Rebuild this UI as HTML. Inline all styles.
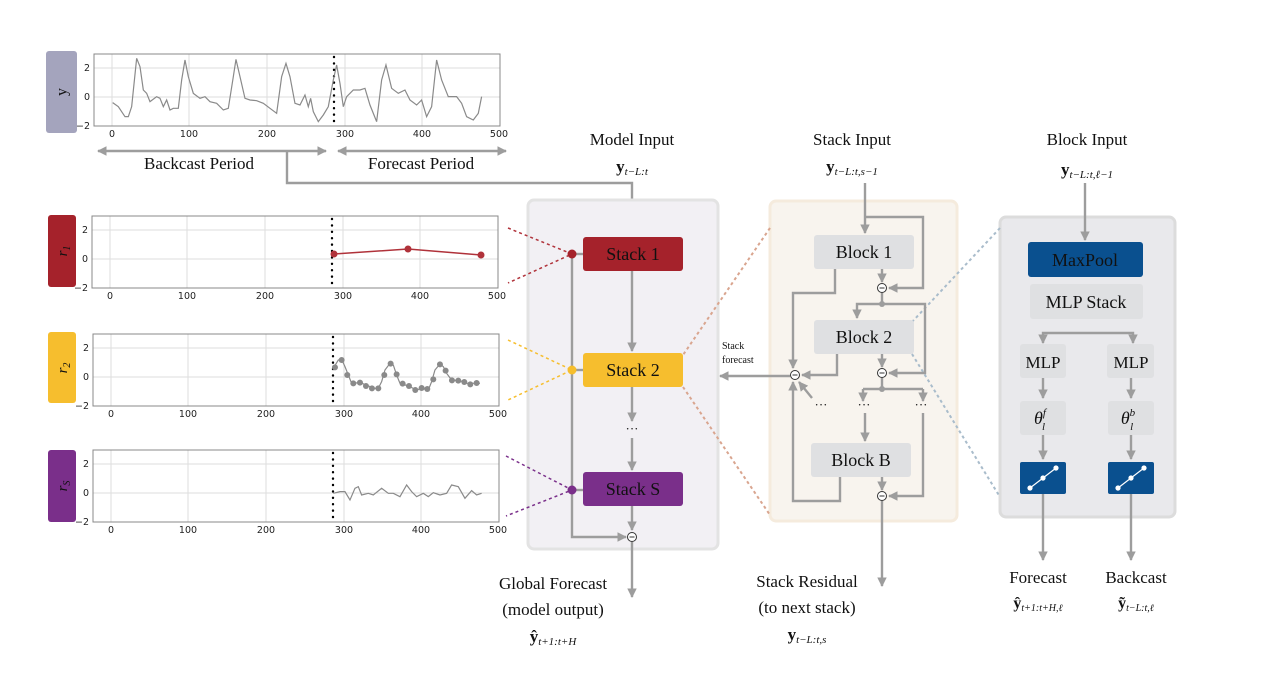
<!DOCTYPE html>
<html><head><meta charset="utf-8"><style>
html,body{margin:0;padding:0;background:#fff;width:1280px;height:674px;overflow:hidden}
svg{display:block}
.ser{font-family:"Liberation Serif",serif;fill:#111}
.tk{font-family:"DejaVu Sans",sans-serif;font-size:9.5px;fill:#222}
.ln{stroke:#9d9d9d;stroke-width:2.4;fill:none}
.g{stroke:#dddddd;stroke-width:1}
</style></head><body>
<svg width="1280" height="674" viewBox="0 0 1280 674" xmlns="http://www.w3.org/2000/svg">
<defs>
<marker id="a" viewBox="0 0 10 10" refX="9" refY="5" markerWidth="4" markerHeight="4" orient="auto-start-reverse" markerUnits="strokeWidth"><path d="M0,0 L10,5 L0,10 z" fill="#9d9d9d"/></marker>
<g id="frame">
<line class="g" x1="18" y1="0" x2="18" y2="72"/><line class="g" x1="95" y1="0" x2="95" y2="72"/><line class="g" x1="173" y1="0" x2="173" y2="72"/><line class="g" x1="251" y1="0" x2="251" y2="72"/><line class="g" x1="328" y1="0" x2="328" y2="72"/>
<line class="g" x1="0" y1="14" x2="406" y2="14"/><line class="g" x1="0" y1="43" x2="406" y2="43"/>
<rect x="0" y="0" width="406" height="72" fill="none" stroke="#888" stroke-width="1"/>
<line x1="240" y1="3" x2="240" y2="72" stroke="#000" stroke-width="2.4" stroke-dasharray="0.1,6.3" stroke-linecap="round"/>
<text class="tk" x="18" y="83" text-anchor="middle">0</text><text class="tk" x="95" y="83" text-anchor="middle">100</text><text class="tk" x="173" y="83" text-anchor="middle">200</text><text class="tk" x="251" y="83" text-anchor="middle">300</text><text class="tk" x="328" y="83" text-anchor="middle">400</text><text class="tk" x="405" y="83" text-anchor="middle">500</text>
<text class="tk" x="-4" y="17" text-anchor="end">2</text><text class="tk" x="-4" y="46" text-anchor="end">0</text><text class="tk" x="-4" y="75" text-anchor="end">−2</text>
</g>
</defs>

<!-- plot y -->
<rect x="46" y="51" width="31" height="82" rx="3" fill="#a4a4bd"/>
<text class="ser" x="61.5" y="92" font-size="16" fill="#333" transform="rotate(-90 61.5 92)" text-anchor="middle" dy="5">y</text>
<use href="#frame" x="94" y="54"/>
<g transform="translate(40,40) scale(0.3333)"><polyline vector-effect="non-scaling-stroke" fill="none" stroke="#8a8a8a" stroke-width="1.2" points="218,188 235,200 255,230 265,230 275,200 290,55 300,80 310,150 320,160 330,185 350,170 360,175 370,200 380,180 390,210 400,205 415,205 425,120 435,60 445,110 460,160 480,175 495,170 510,185 530,190 550,210 565,205 580,110 588,58 600,110 615,175 630,180 650,182 670,190 690,205 710,220 725,110 738,70 750,110 765,190 780,195 795,165 805,200 812,175 820,215 835,245 850,225 865,200 880,120 890,75 900,130 910,200 920,170 940,150 960,150 975,145 990,195 1010,245 1025,120 1038,75 1055,145 1075,160 1095,150 1110,180 1130,195 1145,180 1160,230 1175,200 1190,60 1205,120 1225,170 1250,170 1265,190 1280,230 1300,240 1315,220 1325,170"/></g>
<line class="ln" x1="98" y1="151" x2="326" y2="151" marker-start="url(#a)" marker-end="url(#a)"/>
<line class="ln" x1="338" y1="151" x2="506" y2="151" marker-start="url(#a)" marker-end="url(#a)"/>
<text class="ser" x="199" y="169" font-size="17" text-anchor="middle">Backcast Period</text>
<text class="ser" x="421" y="169" font-size="17" text-anchor="middle">Forecast Period</text>
<polyline class="ln" points="287,151 287,183 632,183 632,232" marker-end="url(#a)"/>

<!-- r1 -->
<rect x="48" y="215" width="28" height="72" rx="3" fill="#a5222b"/>
<text class="ser" x="62" y="251" font-size="15" fill="#fff" font-style="italic" transform="rotate(-90 62 251)" text-anchor="middle" dy="5">r<tspan font-size="10" dy="3">1</tspan></text>
<use href="#frame" x="92" y="216"/>
<polyline fill="none" stroke="#b0323a" stroke-width="1.5" points="334,254 408,249 481,255"/>
<circle cx="334" cy="254" r="3.5" fill="#b0323a"/><circle cx="408" cy="249" r="3.5" fill="#b0323a"/><circle cx="481" cy="255" r="3.5" fill="#b0323a"/>

<!-- r2 -->
<rect x="48" y="332" width="28" height="71" rx="3" fill="#f6be2e"/>
<text class="ser" x="62" y="368" font-size="15" fill="#222" font-style="italic" transform="rotate(-90 62 368)" text-anchor="middle" dy="5">r<tspan font-size="10" dy="3">2</tspan></text>
<use href="#frame" x="93" y="334"/>
<g transform="translate(40,320) scale(0.3333)"><polyline vector-effect="non-scaling-stroke" fill="none" stroke="#8a8a8a" stroke-width="1.2" points="880,145 895,120 905,118 915,140 925,165 935,190 960,188 980,195 1000,205 1015,205 1025,185 1035,150 1050,130 1060,135 1070,165 1080,190 1105,198 1130,210 1145,205 1165,210 1175,185 1185,150 1200,132 1210,140 1220,160 1235,180 1260,182 1280,190 1300,190 1320,190"/>
<g fill="#8a8a8a"><circle cx="885" cy="142" r="9"/><circle cx="905" cy="120" r="9"/><circle cx="922" cy="165" r="9"/><circle cx="940" cy="190" r="9"/><circle cx="960" cy="188" r="9"/><circle cx="978" cy="198" r="9"/><circle cx="996" cy="205" r="9"/><circle cx="1015" cy="205" r="9"/><circle cx="1033" cy="165" r="9"/><circle cx="1052" cy="131" r="9"/><circle cx="1070" cy="163" r="9"/><circle cx="1088" cy="191" r="9"/><circle cx="1107" cy="198" r="9"/><circle cx="1126" cy="210" r="9"/><circle cx="1145" cy="204" r="9"/><circle cx="1162" cy="207" r="9"/><circle cx="1180" cy="178" r="9"/><circle cx="1200" cy="133" r="9"/><circle cx="1217" cy="152" r="9"/><circle cx="1236" cy="181" r="9"/><circle cx="1255" cy="182" r="9"/><circle cx="1273" cy="186" r="9"/><circle cx="1291" cy="193" r="9"/><circle cx="1310" cy="189" r="9"/></g></g>

<!-- rS -->
<rect x="48" y="450" width="28" height="72" rx="3" fill="#7a2f8a"/>
<text class="ser" x="62" y="486" font-size="15" fill="#fff" font-style="italic" transform="rotate(-90 62 486)" text-anchor="middle" dy="5">r<tspan font-size="10" dy="3">S</tspan></text>
<use href="#frame" x="93" y="450"/>
<g transform="translate(40,320) scale(0.3333)"><polyline vector-effect="non-scaling-stroke" fill="none" stroke="#8a8a8a" stroke-width="1.2" points="880,520 900,515 915,515 930,540 945,505 955,500 965,525 985,520 1000,525 1025,505 1045,520 1060,520 1080,530 1100,495 1115,515 1130,530 1150,520 1165,530 1180,518 1200,525 1220,520 1235,495 1255,500 1275,535 1295,512 1310,525 1325,520"/></g>

<!-- Model panel -->
<rect x="528" y="200" width="190" height="349" rx="6" fill="#f2f0f4" stroke="#e3e3e3" stroke-width="3"/>
<!-- Stack panel -->
<rect x="770" y="201" width="187" height="320" rx="6" fill="#f8f4ee" stroke="#f5ebdd" stroke-width="3"/>
<!-- Block panel -->
<rect x="1000" y="217" width="175" height="300" rx="6" fill="#e9e9ec" stroke="#dcdcdc" stroke-width="3"/>

<!-- dashed connectors -->
<g stroke-width="1.5" stroke-dasharray="3,3" fill="none">
<polyline stroke="#b0323a" points="508,228 572,254 508,283"/>
<polyline stroke="#f6be2e" points="508,340 572,370 508,400"/>
<polyline stroke="#7a2f8a" points="506,456 572,490 506,516"/>
<polyline stroke="#d9a58f" stroke-width="2" points="770,228 683,355"/>
<polyline stroke="#d9a58f" stroke-width="2" points="683,387 770,515"/>
<polyline stroke="#a9bccb" stroke-width="2" points="1000,228 912,322"/>
<polyline stroke="#a9bccb" stroke-width="2" points="912,354 1000,497"/>
</g>

<text class="ser" x="632" y="145" font-size="17" text-anchor="middle">Model Input</text>
<text class="ser" x="632" y="172" font-size="17" text-anchor="middle" font-weight="bold">y<tspan font-size="11" font-style="italic" font-weight="normal" dy="3">t−L:t</tspan></text>
<rect x="583" y="237" width="100" height="34" rx="3" fill="#a5222b"/>
<text class="ser" x="633" y="260" font-size="18" fill="#fff" text-anchor="middle">Stack 1</text>
<rect x="583" y="353" width="100" height="34" rx="3" fill="#f6be2e"/>
<text class="ser" x="633" y="376" font-size="18" text-anchor="middle">Stack 2</text>
<rect x="583" y="472" width="100" height="34" rx="3" fill="#7a2f8a"/>
<text class="ser" x="633" y="495" font-size="18" fill="#fff" text-anchor="middle">Stack S</text>
<polyline class="ln" points="572,254 572,537 626,537" marker-end="url(#a)"/>
<line class="ln" x1="572" y1="254" x2="583" y2="254"/><line class="ln" x1="572" y1="370" x2="583" y2="370"/><line class="ln" x1="572" y1="490" x2="583" y2="490"/>
<circle cx="572" cy="254" r="4.5" fill="#a5222b"/><circle cx="572" cy="370" r="4.5" fill="#f6be2e"/><circle cx="572" cy="490" r="4.5" fill="#7a2f8a"/>
<line class="ln" x1="632" y1="271" x2="632" y2="351" marker-end="url(#a)"/>
<line class="ln" x1="632" y1="387" x2="632" y2="421" marker-end="url(#a)"/>
<text class="ser" x="632" y="433" font-size="13" text-anchor="middle" fill="#777">···</text>
<line class="ln" x1="632" y1="438" x2="632" y2="470" marker-end="url(#a)"/>
<line class="ln" x1="632" y1="506" x2="632" y2="530" marker-end="url(#a)"/>
<circle cx="632" cy="537" r="4.5" fill="#fff" stroke="#333" stroke-width="1"/><line x1="629.5" y1="537" x2="634.5" y2="537" stroke="#333" stroke-width="1"/>
<line class="ln" x1="632" y1="542" x2="632" y2="597" marker-end="url(#a)"/>
<text class="ser" x="553" y="589" font-size="17" text-anchor="middle">Global Forecast</text>
<text class="ser" x="553" y="615" font-size="17" text-anchor="middle">(model output)</text>
<text class="ser" x="553" y="642" font-size="17" text-anchor="middle" font-weight="bold">ŷ<tspan font-size="11" font-style="italic" font-weight="normal" dy="3">t+1:t+H</tspan></text>

<text x="722" y="349" font-family="Liberation Serif,serif" font-size="10" fill="#111">Stack</text>
<text x="722" y="363" font-family="Liberation Serif,serif" font-size="10" fill="#111">forecast</text>
<line class="ln" x1="790" y1="376" x2="720" y2="376" marker-end="url(#a)"/>

<text class="ser" x="852" y="145" font-size="17" text-anchor="middle">Stack Input</text>
<text class="ser" x="852" y="172" font-size="17" text-anchor="middle" font-weight="bold">y<tspan font-size="11" font-style="italic" font-weight="normal" dy="3">t−L:t,s−1</tspan></text>
<rect x="814" y="235" width="100" height="34" rx="3" fill="#dfe0e2"/>
<text class="ser" x="864" y="258" font-size="18" text-anchor="middle">Block 1</text>
<rect x="814" y="320" width="100" height="34" rx="3" fill="#dfe0e2"/>
<text class="ser" x="864" y="343" font-size="18" text-anchor="middle">Block 2</text>
<rect x="811" y="443" width="100" height="34" rx="3" fill="#dfe0e2"/>
<text class="ser" x="861" y="466" font-size="18" text-anchor="middle">Block B</text>
<line class="ln" x1="865" y1="183" x2="865" y2="233" marker-end="url(#a)"/>
<polyline class="ln" points="865,217 923,217 923,288 889,288" marker-end="url(#a)"/>
<line class="ln" x1="882" y1="269" x2="882" y2="282" marker-end="url(#a)"/>
<polyline class="ln" points="835,269 835,293 793,293 793,368" marker-end="url(#a)"/>
<line class="ln" x1="882" y1="293" x2="882" y2="304"/>
<polyline class="ln" points="882,304 857,304 857,318" marker-end="url(#a)"/>
<polyline class="ln" points="882,304 925,304 925,373 889,373" marker-end="url(#a)"/>
<circle cx="882" cy="304" r="3" fill="#9d9d9d"/>
<line class="ln" x1="882" y1="354" x2="882" y2="367" marker-end="url(#a)"/>
<polyline class="ln" points="837,354 837,375 802,375" marker-end="url(#a)"/>
<line class="ln" x1="882" y1="378" x2="882" y2="389"/>
<polyline class="ln" points="863,389 923,389"/>
<line class="ln" x1="863" y1="389" x2="863" y2="401" marker-end="url(#a)"/>
<line class="ln" x1="923" y1="389" x2="923" y2="401" marker-end="url(#a)"/>
<circle cx="882" cy="389" r="3" fill="#9d9d9d"/>
<text class="ser" x="821" y="409" font-size="13" text-anchor="middle" fill="#555">···</text>
<text class="ser" x="864" y="409" font-size="13" text-anchor="middle" fill="#555">···</text>
<text class="ser" x="921" y="409" font-size="13" text-anchor="middle" fill="#555">···</text>
<line class="ln" x1="812" y1="398" x2="799" y2="382" marker-end="url(#a)"/>
<line class="ln" x1="865" y1="413" x2="865" y2="441" marker-end="url(#a)"/>
<polyline class="ln" points="923,413 923,496 889,496" marker-end="url(#a)"/>
<polyline class="ln" points="840,477 840,501 793,501 793,382" marker-end="url(#a)"/>
<line class="ln" x1="882" y1="477" x2="882" y2="490" marker-end="url(#a)"/>
<g fill="#fff" stroke="#333" stroke-width="1">
<circle cx="882" cy="288" r="4.5"/><circle cx="882" cy="373" r="4.5"/><circle cx="795" cy="375" r="4.5"/><circle cx="882" cy="496" r="4.5"/>
<line x1="879.5" y1="288" x2="884.5" y2="288"/><line x1="879.5" y1="373" x2="884.5" y2="373"/><line x1="792.5" y1="375" x2="797.5" y2="375"/><line x1="879.5" y1="496" x2="884.5" y2="496"/>
</g>
<line class="ln" x1="882" y1="501" x2="882" y2="586" marker-end="url(#a)"/>
<text class="ser" x="807" y="587" font-size="17" text-anchor="middle">Stack Residual</text>
<text class="ser" x="807" y="613" font-size="17" text-anchor="middle">(to next stack)</text>
<text class="ser" x="807" y="640" font-size="17" text-anchor="middle" font-weight="bold">y<tspan font-size="11" font-style="italic" font-weight="normal" dy="3">t−L:t,s</tspan></text>

<text class="ser" x="1087" y="145" font-size="17" text-anchor="middle">Block Input</text>
<text class="ser" x="1087" y="175" font-size="17" text-anchor="middle" font-weight="bold">y<tspan font-size="11" font-style="italic" font-weight="normal" dy="3">t−L:t,ℓ−1</tspan></text>
<line class="ln" x1="1085" y1="183" x2="1085" y2="240" marker-end="url(#a)"/>
<rect x="1028" y="242" width="115" height="35" rx="3" fill="#0a508f"/>
<text class="ser" x="1085" y="266" font-size="18" fill="#fff" text-anchor="middle">MaxPool</text>
<rect x="1030" y="284" width="113" height="35" rx="3" fill="#dfe0e2"/>
<text class="ser" x="1086" y="308" font-size="18" text-anchor="middle">MLP Stack</text>
<polyline class="ln" points="1043,343 1043,333 1133,333 1133,343" marker-start="url(#a)" marker-end="url(#a)"/>
<rect x="1020" y="344" width="46" height="34" rx="3" fill="#dfe0e2"/>
<rect x="1107" y="344" width="47" height="34" rx="3" fill="#dfe0e2"/>
<text class="ser" x="1043" y="368" font-size="17" text-anchor="middle">MLP</text>
<text class="ser" x="1131" y="368" font-size="17" text-anchor="middle">MLP</text>
<line class="ln" x1="1043" y1="378" x2="1043" y2="398" marker-end="url(#a)"/>
<line class="ln" x1="1131" y1="378" x2="1131" y2="398" marker-end="url(#a)"/>
<rect x="1020" y="401" width="46" height="34" rx="3" fill="#dfe0e2"/>
<rect x="1108" y="401" width="46" height="34" rx="3" fill="#dfe0e2"/>
<text class="ser" x="1040" y="424" font-size="18" font-style="italic" text-anchor="middle">θ<tspan font-size="11" dx="0" dy="-8">f</tspan><tspan font-size="11" dx="-4" dy="14">l</tspan></text>
<text class="ser" x="1128" y="424" font-size="18" font-style="italic" text-anchor="middle">θ<tspan font-size="11" dy="-8">b</tspan><tspan font-size="11" dx="-5" dy="14">l</tspan></text>
<line class="ln" x1="1043" y1="435" x2="1043" y2="459" marker-end="url(#a)"/>
<line class="ln" x1="1131" y1="435" x2="1131" y2="459" marker-end="url(#a)"/>
<rect x="1020" y="462" width="46" height="32" rx="2" fill="#0a508f"/>
<rect x="1108" y="462" width="46" height="32" rx="2" fill="#0a508f"/>
<g stroke="#fff" stroke-width="1.2" fill="#fff">
<line x1="1030" y1="488" x2="1056" y2="468"/><circle cx="1030" cy="488" r="2"/><circle cx="1043" cy="478" r="2"/><circle cx="1056" cy="468" r="2"/>
<line x1="1118" y1="488" x2="1144" y2="468"/><circle cx="1118" cy="488" r="2"/><circle cx="1131" cy="478" r="2"/><circle cx="1144" cy="468" r="2"/>
</g>
<line class="ln" x1="1043" y1="494" x2="1043" y2="560" marker-end="url(#a)"/>
<line class="ln" x1="1131" y1="494" x2="1131" y2="560" marker-end="url(#a)"/>
<text class="ser" x="1038" y="583" font-size="17" text-anchor="middle">Forecast</text>
<text class="ser" x="1136" y="583" font-size="17" text-anchor="middle">Backcast</text>
<text class="ser" x="1038" y="608" font-size="16" text-anchor="middle" font-weight="bold">ŷ<tspan font-size="10" font-style="italic" font-weight="normal" dy="3">t+1:t+H,ℓ</tspan></text>
<text class="ser" x="1136" y="608" font-size="16" text-anchor="middle" font-weight="bold">ỹ<tspan font-size="10" font-style="italic" font-weight="normal" dy="3">t−L:t,ℓ</tspan></text>
</svg>
</body></html>
